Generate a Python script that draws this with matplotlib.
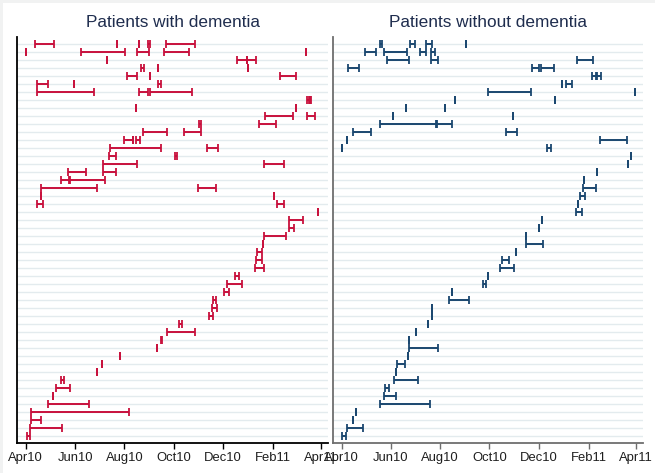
import numpy as np
import matplotlib
matplotlib.use("Agg")
import matplotlib.pyplot as plt
import matplotlib.dates as mdates
from matplotlib.patches import Rectangle

plt.rcParams['font.family'] = ['Liberation Sans', 'DejaVu Sans']

# ---- data: each interval = (row from top, start day, end day), days since 2010-04-01
dem_row = [0,0,0,0,0, 1,1,1,1,1, 2,2,2, 3,3,3, 4,4,4, 5,5,5, 6,6,6, 7,7, 8,8, 9,9,
           10,10, 11,11, 12,12,12, 13,13, 14,14, 15,15, 16,16, 17,17, 18,18, 19,19,
           20,20, 21, 22, 23, 24, 25, 26, 27, 28, 29, 30, 31, 32, 33, 34, 35, 36, 37,
           38, 39, 40, 41, 42, 43, 44, 45, 46, 47, 48, 49]
dem_start = [12,113,140,151,173, 0,68,138,171,346, 100,261,273, 143,163,275, 125,153,314,
             14,60,164, 14,140,154, 347,351, 136,334, 296,348, 214,288, 145,195,
             121,133,136, 104,224, 103,185, 96,295, 52,95, 43,55, 19,213, 19,307,
             14,311, 361, 325, 325, 294, 293, 286, 284, 283, 259, 249, 245, 232, 230, 227,
             189, 174, 167, 162, 117, 94, 88, 43, 38, 34, 27, 7, 6, 5, 2]
dem_end = [35,113,140,153,209, 0,123,152,202,346, 100,273,285, 146,163,275, 137,153,334,
           27,60,167, 84,151,206, 350,353, 136,334, 330,358, 216,309, 174,217,
           132,133,141, 167,238, 112,187, 138,319, 74,111, 54,98, 88,235, 19,307,
           21,319, 361, 342, 332, 321, 293, 292, 292, 294, 264, 267, 251, 235, 236, 232,
           193, 209, 168, 162, 117, 94, 88, 47, 55, 34, 78, 127, 19, 45, 5]

nodem_row = [0,0,0,0, 1,1,1,1, 2,2,2, 3,3,3, 4,4, 5,5, 6,6, 7,7, 8,8, 9,9, 10,10, 11,11,
             12,12, 13,13, 14, 15, 16, 17, 18, 19, 20, 21, 22, 23, 24, 25, 26, 27, 28, 29,
             30, 31, 32, 33, 34, 35, 36, 37, 38, 39, 40, 41, 42, 43, 44, 45, 46, 47, 48, 49]
nodem_start = [47,85,104,154, 29,52,97,111, 56,111,292, 8,236,247, 310,316, 273,278,
               181,363, 140,265, 80,128, 64,212, 47,118, 14,204, 6,320, 1,254, 359, 355,
               317, 300, 299, 295, 293, 290, 248, 244, 228, 228, 216, 199, 196, 181, 175,
               137, 133, 112, 112, 107, 92, 83, 83, 82, 68, 67, 65, 54, 53, 48, 18, 14, 7, 0]
nodem_end = [50,91,112,154, 42,81,104,116, 84,120,312, 22,244,263, 315,322, 273,285,
             235,363, 140,265, 80,128, 64,212, 117,137, 36,217, 6,354, 1,259, 359, 355,
             317, 300, 315, 302, 293, 298, 248, 244, 228, 249, 216, 208, 214, 181, 179,
             137, 158, 112, 112, 107, 92, 83, 119, 82, 78, 67, 95, 59, 67, 109, 18, 14, 27, 5]

tick_labels = ['Apr10', 'Jun10', 'Aug10', 'Oct10', 'Dec10', 'Feb11', 'Apr11']
tick_dates = ['2010-04-01', '2010-06-01', '2010-08-01', '2010-10-01', '2010-12-01',
              '2011-02-01', '2011-04-01']
titles = ['Patients with dementia', 'Patients without dementia']
n_rows = 50
base = np.datetime64('2010-04-01')

RED = '#C8103C'
BLUE = '#1A476F'
GRID = '#E3EBEE'

W, H = 655, 473
fig = plt.figure(figsize=(W / 100, H / 100), dpi=100)
fig.patch.set_facecolor('#F1F2F2')
fig.patches.append(Rectangle((3 / W, 0), 1, 1 - 3 / H, transform=fig.transFigure,
                             facecolor='white', edgecolor='none', zorder=-10))

def to_num(days):
    return mdates.date2num(base + np.array(days, dtype='timedelta64[D]'))

panels = [
    (dict(left=17.3, right=328), dem_row, dem_start, dem_end, RED, 'black', titles[0]),
    (dict(left=333.3, right=643), nodem_row, nodem_start, nodem_end, BLUE, '#6E6E6E', titles[1]),
]
top_px, bot_px = 37, 443.3
tnum = mdates.date2num(np.array(tick_dates, dtype='datetime64[D]'))
for pos, rows, starts, ends, col, spc, title in panels:
    ax = fig.add_axes([pos['left'] / W, 1 - bot_px / H,
                       (pos['right'] - pos['left']) / W, (bot_px - top_px) / H])
    ax.set_facecolor('white')
    y = n_rows - np.array(rows)
    xs = to_num(starts)
    xe = to_num(ends)
    for k in range(1, n_rows + 1):
        ax.axhline(k, color=GRID, lw=1.0, zorder=0)
    ax.hlines(y, xs, xe, color=col, lw=1.4, zorder=3)
    ax.plot(np.concatenate([xs, xe]), np.concatenate([y, y]), ls='none', marker='|',
            ms=5.5, mew=1.3, color=col, zorder=4)
    ax.set_xlim(tnum[0] - 10.4, tnum[0] + 373.5)
    ax.set_ylim(0.125, 50.9)
    ax.set_yticks([])
    ax.set_xticks(tnum)
    ax.set_xticklabels(tick_labels, fontsize=9.4, color='#1E1E1E')
    ax.tick_params(axis='x', direction='out', length=4, width=1, color=spc, pad=2.5)
    for s in ['top', 'right']:
        ax.spines[s].set_visible(False)
    ax.spines['left'].set_color(spc)
    ax.spines['bottom'].set_color(spc)
    ax.spines['left'].set_linewidth(1.3)
    ax.spines['bottom'].set_linewidth(1.3)
    ax.set_title(title, fontsize=12.4, color='#1F2D4E', pad=7)

fig.savefig('out.png', dpi=100, facecolor=fig.get_facecolor())
